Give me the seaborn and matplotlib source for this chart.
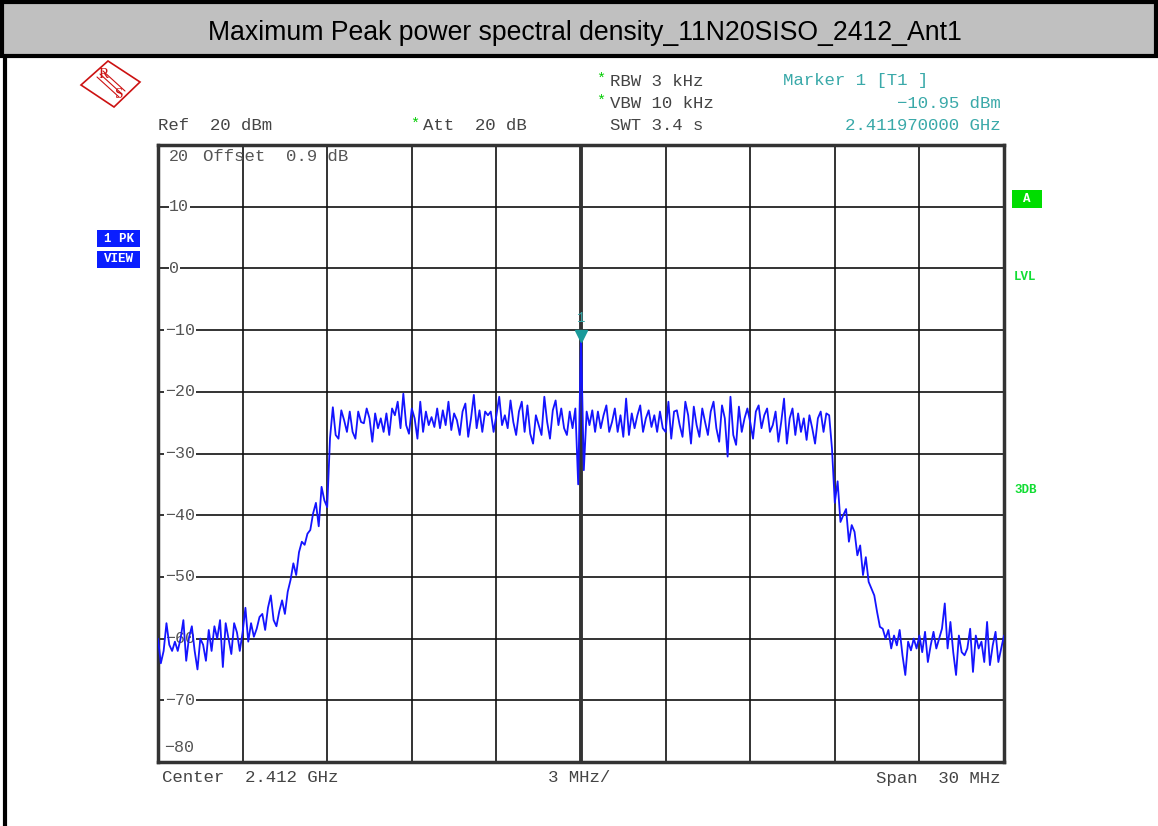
import numpy as np
import pandas as pd
import matplotlib
matplotlib.use("Agg")
import matplotlib.pyplot as plt
import seaborn as sns
from matplotlib.patches import Rectangle, Polygon
from matplotlib.lines import Line2D

sns.set_style("white")
plt.rcParams['font.family'] = ['Liberation Mono', 'DejaVu Sans Mono']

W, H = 1158, 826

# 仪器设置
title = 'Maximum Peak power spectral density_11N20SISO_2412_Ant1'
center_ghz = 2.412
span_mhz = 30
ref_dbm = 20
db_per_div = 10
marker_dbm = -10.95
marker_ghz = '2.411970000'

# 迹线读数 (dBm)，从 -15 MHz 到 +15 MHz，每 0.1 MHz 一个点
level_dbm = [
    -60, -64, -62, -57.5, -61, -62, -60.5, -62, -60, -57,
    -63.6, -59.8, -58, -62, -65, -60, -61, -63.6, -58.6, -62,
    -58, -60, -57, -64.6, -57.5, -60, -62.5, -57.5, -59, -62,
    -59, -55, -60.5, -57.5, -59.7, -58.4, -56.5, -56, -58.6, -55,
    -53, -57, -58, -55.6, -53.8, -56, -52.4, -50.5, -47.8, -49.7,
    -46, -44.3, -44.8, -43, -42.4, -39.7, -38, -41.8, -35.4, -37.6,
    -38.7, -27.5, -22.5, -27, -27.6, -23, -24.6, -26.5, -23.2, -26.5,
    -27.6, -23.2, -24.9, -25.1, -22.7, -24.3, -28.1, -23.5, -25.9, -24.3,
    -26.5, -23.5, -27, -22.7, -23.8, -21.6, -25.9, -20.3, -25.4, -26.8,
    -22.7, -24.3, -27.6, -21.6, -26.5, -23.2, -25.4, -24.1, -25.7, -22.7,
    -25.9, -23, -25.4, -21.6, -26.2, -23.5, -24.6, -27, -23.2, -21.9,
    -27.3, -24.3, -20.5, -25.9, -23, -26.5, -23.2, -23.8, -23.2, -26.5,
    -23.8, -20.8, -25.4, -23.8, -25.9, -21.4, -24.9, -27, -23.2, -21.6,
    -26.5, -22.2, -26.8, -28.4, -23.8, -25.4, -27, -20.8, -24.9, -27.6,
    -23, -21.4, -25.4, -22.7, -25.9, -27, -23.2, -25.9, -22.7, -35,
    -10.95, -32.7, -23.2, -25.4, -23, -26.5, -23.2, -25.9, -23.8, -22.2,
    -26.5, -24.9, -22.7, -26.5, -23.8, -27.3, -21.1, -27, -23.5, -25.9,
    -23.8, -22.2, -26.5, -24.3, -23, -25.7, -23.8, -26.5, -23.2, -25.9,
    -26.5, -21.6, -27.6, -23.2, -23, -25.4, -27.3, -21.6, -23.8, -28.4,
    -22.4, -25.4, -27.3, -22.7, -24.9, -27, -23.2, -21.6, -25.9, -28.1,
    -22.2, -24.3, -30.5, -20.8, -27, -28.6, -22.4, -26.5, -24.3, -22.7,
    -24.9, -27.6, -23.2, -22.2, -25.9, -23.8, -22.7, -26.5, -25.4, -23.2,
    -28.1, -24.9, -21.1, -28.4, -24.3, -22.7, -27, -23.5, -26.5, -24.3,
    -27.8, -23.8, -25.9, -28.4, -24.3, -23.2, -26.5, -23.5, -23.8, -29.2,
    -38, -34.5, -41.1, -40, -39, -44.3, -41.6, -42.7, -46.5, -44.9,
    -49.7, -46.8, -50.8, -51.9, -53, -55.7, -58.1, -58.4, -60, -58.6,
    -61.6, -59.5, -61.1, -58.6, -62.7, -65.9, -60.5, -61.9, -60, -61.6,
    -59.5, -62.2, -58.9, -63.8, -61.1, -58.9, -61.6, -60, -58.4, -54.3,
    -61.6, -57.3, -62.2, -65.9, -59.5, -62.2, -62.7, -61.6, -58.4, -65.4,
    -59.5, -61.6, -60.5, -63.8, -57.3, -64.3, -61.1, -58.9, -63.8, -61.6, -59.5,
]

# 扫描点均匀分布在整个 span 上
offset_mhz = np.linspace(-span_mhz / 2, span_mhz / 2, len(level_dbm))
df = pd.DataFrame({'offset_mhz': offset_mhz, 'level_dbm': level_dbm})


def fx(x):
    return x / W


def fy(y):
    return 1 - y / H


fig = plt.figure(figsize=(W / 100, H / 100), dpi=100)

# 标题栏
fig.patches.append(Rectangle((fx(2), fy(56)), fx(1156) - fx(2), fy(2) - fy(56),
                             transform=fig.transFigure, fc='#c0c0c0', ec='black', lw=3))
fig.lines.append(Line2D([fx(5), fx(5)], [fy(56), fy(826)], transform=fig.transFigure,
                        color='black', lw=3))
fig.text(fx(585), fy(33), title, ha='center', va='center', fontsize=19.2,
         family=['Liberation Sans', 'DejaVu Sans'], color='black')

# 主图
ax = fig.add_axes([fx(158), fy(762), fx(1004) - fx(158), fy(145) - fy(762)])
sns.lineplot(data=df, x='offset_mhz', y='level_dbm', ax=ax, color='#1414ff', lw=1.3, zorder=3)
ax.set_xlim(-span_mhz / 2, span_mhz / 2)
ax.set_ylim(ref_dbm - 10 * db_per_div, ref_dbm)
ax.set_xticks(np.arange(-15, 16, 3))
ax.set_yticks(np.arange(-80, 21, 10))
ax.tick_params(length=0, labelbottom=False, labelleft=False)
ax.set_xlabel('')
ax.set_ylabel('')
ax.grid(True, color='#111111', lw=1.2)
ax.set_axisbelow(True)
ax.axvline(0, color='#333333', lw=2.8, zorder=1)
for s in ax.spines.values():
    s.set_color('#333333')
    s.set_linewidth(2.5)

# 纵轴刻度标签写在图内
for v in range(10, -80, -10):
    lab = str(v).replace('-', '\u2212')
    x0 = -14.75 if v < 0 else -14.6
    ax.text(x0, v, lab, ha='left', va='center', fontsize=12, color='#555555',
            bbox=dict(fc='white', ec='none', pad=0.5), zorder=2)
ax.text(-14.6, 18.1, '20', ha='left', va='center', fontsize=12, color='#555555')
ax.text(-14.8, -77.6, '\u221280', ha='left', va='center', fontsize=12, color='#555555')
ax.text(-13.4, 18.1, 'Offset  0.9 dB', ha='left', va='center', fontsize=12.5, color='#555555')

# 标记点
i_pk = int(np.argmax(level_dbm))
ax.plot(offset_mhz[i_pk], level_dbm[i_pk], marker='v', color='#1a9a9a', ms=8, zorder=4)
ax.text(offset_mhz[i_pk], level_dbm[i_pk] + 1.8, '1', ha='center', va='bottom',
        fontsize=10, color='#3aa9a9')

# 顶部设置信息
txt = '#444444'
teal = '#3aa9a9'
green = '#00cc00'
fs = 12.5
fig.text(fx(158), fy(126), 'Ref  20 dBm', ha='left', va='center', fontsize=fs, color=txt)
fig.text(fx(410), fy(124), '*', ha='left', va='center', fontsize=11, color=green)
fig.text(fx(423), fy(126), 'Att  20 dB', ha='left', va='center', fontsize=fs, color=txt)
fig.text(fx(610), fy(126), 'SWT 3.4 s', ha='left', va='center', fontsize=fs, color=txt)
fig.text(fx(596), fy(79), '*', ha='left', va='center', fontsize=11, color=green)
fig.text(fx(610), fy(81), 'RBW 3 kHz', ha='left', va='center', fontsize=fs, color=txt)
fig.text(fx(596), fy(101), '*', ha='left', va='center', fontsize=11, color=green)
fig.text(fx(610), fy(103), 'VBW 10 kHz', ha='left', va='center', fontsize=fs, color=txt)
fig.text(fx(783), fy(81), 'Marker 1 [T1 ]', ha='left', va='center', fontsize=fs, color=teal)
fig.text(fx(1001), fy(103), f'{marker_dbm:.2f} dBm'.replace('-', '\u2212'), ha='right',
         va='center', fontsize=fs, color=teal)
fig.text(fx(1001), fy(126), f'{marker_ghz} GHz', ha='right', va='center', fontsize=fs, color=teal)

# 底部信息
fig.text(fx(162), fy(778), f'Center  {center_ghz} GHz', ha='left', va='center', fontsize=fs, color=txt)
fig.text(fx(548), fy(778), '3 MHz/', ha='left', va='center', fontsize=fs, color=txt)
fig.text(fx(1000), fy(778), f'Span  {span_mhz} MHz', ha='right', va='center', fontsize=fs, color=txt)


def box(x0, y0, x1, y1, color, label, tcolor='white'):
    fig.patches.append(Rectangle((fx(x0), fy(y1)), fx(x1) - fx(x0), fy(y0) - fy(y1),
                                 transform=fig.transFigure, fc=color, ec='none'))
    fig.text(fx((x0 + x1) / 2), fy((y0 + y1) / 2), label, ha='center', va='center',
             fontsize=9, weight='bold', color=tcolor)


# 左侧蓝色标签
box(97, 230, 140, 247, '#0a1eff', '1 PK')
box(97, 251, 140, 268, '#0a1eff', 'VIEW')

# 右侧绿色标签
box(1012, 190, 1042, 208, '#00dd00', 'A')
fig.text(fx(1014), fy(277), 'LVL', ha='left', va='center', fontsize=9, weight='bold', color='#11dd33')
fig.text(fx(1014), fy(490), '3DB', ha='left', va='center', fontsize=9, weight='bold', color='#11dd33')

# R&S 标志
cx, cy = 112, 84
dia = [(cx - 31, cy + 1), (cx - 4, cy - 23), (cx + 28, cy - 2), (cx + 2, cy + 23)]
fig.patches.append(Polygon([(fx(a), fy(b)) for a, b in dia], closed=True, transform=fig.transFigure,
                           fc='white', ec='#cc1111', lw=1.2))
for d in (-3, 0, 3):
    fig.lines.append(Line2D([fx(cx - 12 + d), fx(cx + 10 + d)], [fy(cy - 10 - d), fy(cy + 10 - d)],
                            transform=fig.transFigure, color='#cc1111', lw=0.8))
fig.text(fx(cx - 8), fy(cy - 9), 'R', ha='center', va='center', fontsize=11,
         family=['Liberation Serif', 'DejaVu Serif'], color='#cc1111')
fig.text(fx(cx + 7), fy(cy + 10), 'S', ha='center', va='center', fontsize=11,
         family=['Liberation Serif', 'DejaVu Serif'], color='#cc1111')

fig.savefig('out.png', dpi=100)
